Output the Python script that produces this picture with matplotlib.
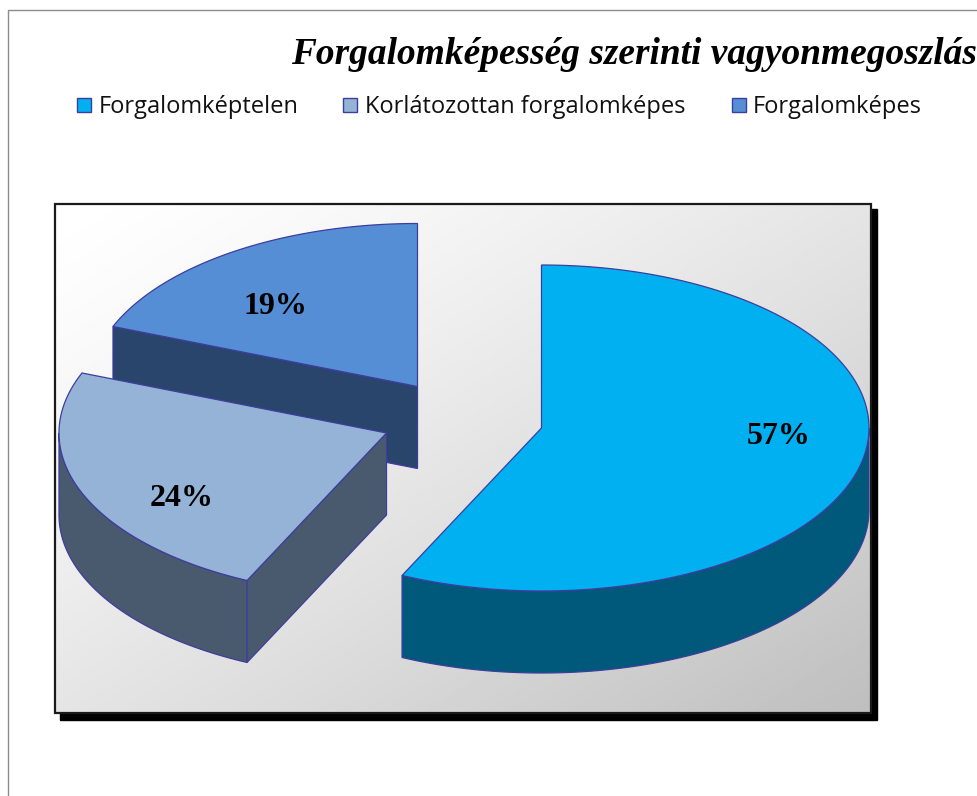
"""Forgalomképesség pie, drawn by hand as an extruded 3D pie."""

import matplotlib

matplotlib.use("Agg")
import matplotlib.pyplot as plt
import numpy as np
from matplotlib.patches import Polygon, Rectangle

title = "Forgalomképesség szerinti vagyonmegoszlás"
labels = ["Forgalomképtelen", "Korlátozottan forgalomképes", "Forgalomképes"]
shares = [57, 24, 19]
top_colors = ["#00B0F0", "#95B3D7", "#558ED5"]
side_colors = ["#00587A", "#4A5A6E", "#2A456C"]

# pixel layout, same numbers as the reference image
W, H = 978, 796
centers = [(541.5, 428), (386.5, 433), (417.5, 386.5)]
RX, RY, DEPTH = 327.5, 163, 82
label_pos = [(779, 436), (182, 498), (275, 306)]
legend_box_x = [77, 343, 732]
legend_text_x = [99, 365, 753]
EDGE = "#3D3D9E"

fig = plt.figure(figsize=(W / 100, H / 100), dpi=100)
ax = fig.add_axes([0, 0, 1, 1])
ax.set_xlim(0, W)
ax.set_ylim(H, 0)
ax.axis("off")

# outer frame, only left and top show
ax.plot([8, 8, W], [H, 10, 10], color="#8C8C8C", lw=1, zorder=1)

# ── plot area: shadow, diagonal gradient, border ──
ax.add_patch(Rectangle((60, 209), 817, 511, color="black", zorder=1))
gx, gy = np.meshgrid(np.linspace(0, 1, 300), np.linspace(0, 1, 300))
ax.imshow(
    ((gx + gy) / 2) ** 1.3,
    extent=(55, 871, 713, 204),
    cmap="gray_r",
    vmin=0,
    vmax=1 / (1 - 190 / 255),
    aspect="auto",
    zorder=2,
)
ax.add_patch(Rectangle((55, 204), 816, 509, fill=False, ec="#1A1A1A", lw=1.6, zorder=3))
ax.set_xlim(0, W)
ax.set_ylim(H, 0)


def rim(cx, cy, a0, a1):
    # angles run clockwise from 12 o'clock, in degrees
    t = np.radians(np.linspace(a0, a1, 200))
    return np.column_stack([cx + RX * np.sin(t), cy - RY * np.cos(t)])


def add_poly(pts, color, z):
    ax.add_patch(Polygon(pts, closed=True, fc=color, ec=EDGE, lw=0.9, zorder=z))


down = np.array([0, DEPTH])
edges = np.cumsum([0] + shares) * 3.6

# back slice first, so the front ones cover it
for i in [2, 1, 0]:
    a0, a1 = edges[i], edges[i + 1]
    c = np.array(centers[i], dtype=float)
    z = 10 + (2 - i) * 3
    arc = rim(c[0], c[1], a0, a1)

    # outer wall, only the part turned to the viewer (90..270 deg)
    lo, hi = max(a0, 90), min(a1, 270)
    if lo < hi:
        wall = rim(c[0], c[1], lo, hi)
        add_poly(np.vstack([wall, (wall + down)[::-1]]), side_colors[i], z)

    # straight cut walls
    if i > 0:
        add_poly(np.array([c, arc[0], arc[0] + down, c + down]), side_colors[i], z)

    add_poly(np.vstack([c, arc]), top_colors[i], z + 1)
    ax.text(
        label_pos[i][0], label_pos[i][1], f"{shares[i]}%",
        ha="center", va="center", family="Liberation Serif",
        fontweight="bold", fontsize=23, color="black", zorder=30,
    )

# ── title and legend ──
ax.text(
    291, 64, title, family="Liberation Serif", style="italic", fontweight="bold",
    fontsize=26.9, color="black", ha="left", va="baseline", zorder=30,
)
for i in range(3):
    ax.add_patch(
        Rectangle((legend_box_x[i], 98), 14, 14, fc=top_colors[i], ec=EDGE, lw=1, zorder=30)
    )
    ax.text(
        legend_text_x[i], 113, labels[i], family="Open Sans", fontsize=17,
        color="#111111", ha="left", va="baseline", zorder=30,
    )

plt.savefig("out.png", dpi=100)
